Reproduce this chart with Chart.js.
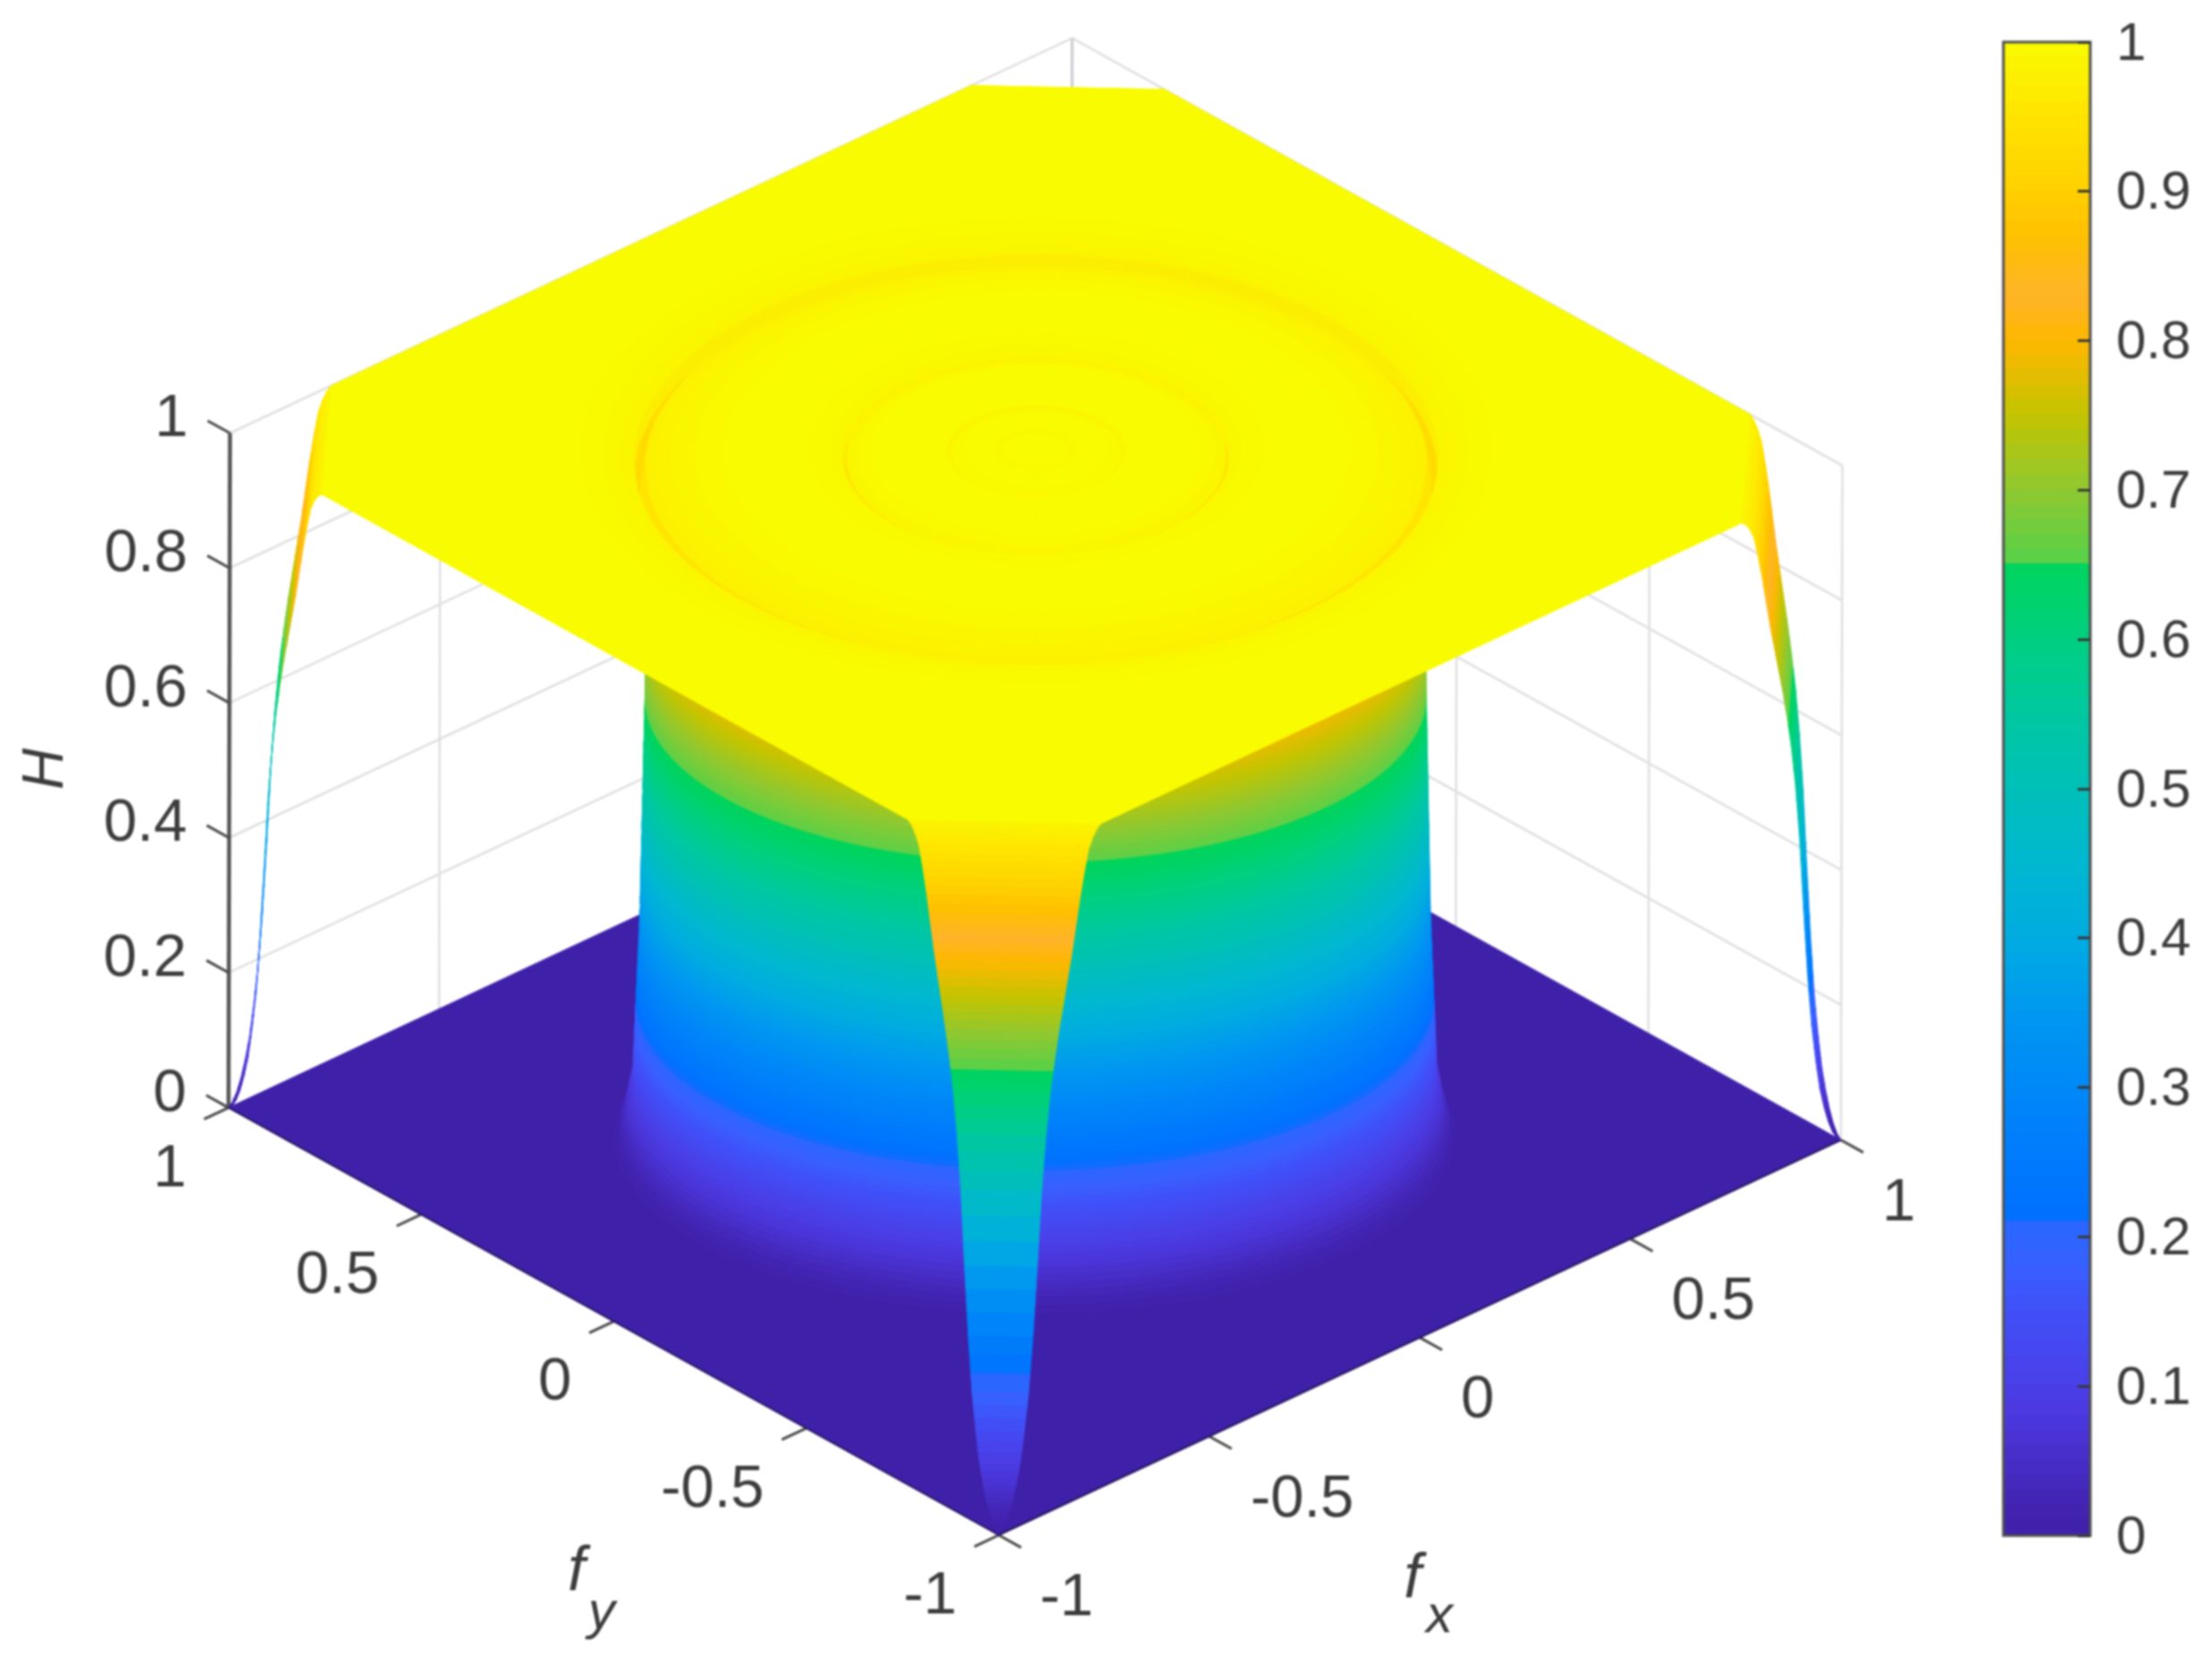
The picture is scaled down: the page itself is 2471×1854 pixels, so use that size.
<!DOCTYPE html>
<html><head><meta charset="utf-8">
<script src="https://cdn.jsdelivr.net/npm/chart.js@4"></script>
<style>
html,body{margin:0;padding:0;background:#fff;width:2471px;height:1854px;overflow:hidden}
canvas{position:absolute;filter:blur(0.9px)}
#main{left:0;top:0}
#bar{left:2200px;top:0}
</style></head><body>
<canvas id="main" width="2471" height="1854"></canvas>
<canvas id="bar" width="271" height="1854"></canvas>
<script>
// ---- axis ticks
const fxTicks=[-1,-0.5,0,0.5,1];
const fyTicks=[-1,-0.5,0,0.5,1];
const hTicks=[0,0.2,0.4,0.6,0.8,1];
// ---- colour map
const cmapH=[0,.03,.07,.1,.15,.18,.205,.212,.3,.35,.4,.45,.5,.55,.6,.65,.655,.7,.75,.78,.8,.83,.87,.9,.95,1];
const cmapC=['#3F20A8','#4426B8','#4A35D8','#4A3FE8','#4050F8','#3860FF','#2A66FF','#0070FF','#0088F8','#0098F0','#00ACE0','#00B8D0','#00C0B8','#00C8A0','#00D080','#00D45C','#5CD046','#90C830','#C4C400','#E8BC00','#FFB800','#FFB428','#FFC000','#FFD000','#FFE400','#F9FB00'];
// ---- height levels of the circular wall and the colour bar
const levels=[0,.01,.02,.03,.04,.05,.06,.07,.08,.09,.1,.11,.12,.13,.14,.15,.16,.17,.18,.19,.2,.21,.22,.23,.24,.25,.26,.27,.28,.29,.3,.31,.32,.33,.34,.35,.36,.37,.38,.39,.4,.41,.42,.43,.44,.45,.46,.47,.48,.49,.5,.51,.52,.53,.54,.55,.56,.57,.58,.59,.6,.61,.62,.63,.64,.65,.66,.67,.68,.69,.7,.71,.72,.73,.74,.75,.76,.77,.78,.79,.8,.81,.82,.83,.84,.85,.86,.87,.88,.89,.9,.91,.92,.93,.94,.95,.96,.97,.98,.99,1];
const barTicks=[0,.1,.2,.3,.4,.5,.6,.7,.8,.9,1];
// ---- wall radius against height
const wallH=[0,.02,.05,.1,.33,.65,1];
const wallR=[.745,.73,.718,.705,.693,.685,.678];
// ---- fall-off of H towards each corner of the (fx,fy) square, t = distance along the edge
const cornerT=[0,.01,.02,.03,.04,.05,.06,.07,.08,.09,.10,.11,.12,.13,.14,.15,.16,.17,.18,.19,.20,.21,.22,.23,.24];
const cornerH=[0,.006,.018,.036,.06,.09,.135,.19,.27,.37,.48,.56,.62,.665,.705,.74,.775,.81,.85,.89,.925,.955,.97,.98,.985];
// ---- radial profile of the top surface (rings)
const ringR=[0,.03,.055,.06,.065,.068,.075,.10,.125,.14,.15,.153,.156,.16,.17,.20,.25,.29,.315,.332,.335,.3375,.339,.34,.345,.36,.40,.45,.50,.55,.60,.64,.67,.685,.695,.6975,.70,.7025,.704,.705,.71,.73,.76,.80,.85,.92,.98];
const ringH=[1,1,.999,.996,.99,.997,1,1,.999,.997,.994,.975,.9966,.998,1,1,1,.998,.992,.986,.93,.95,.975,.989,.992,.997,1,1,1,.998,.993,.987,.98,.976,.93,.88,.84,.90,.96,.984,.987,.991,.995,.999,1,1,1];

// ---- view of the 3D box
const O={x:1155.9,y:1255.2}, EX={x:470.4,y:-220.6}, EY={x:-430.2,y:-238.7}, EZ={x:1.6,y:-753.3};
const P=(fx,fy,h)=>({x:O.x+fx*EX.x+fy*EY.x+h*EZ.x,y:O.y+fx*EX.y+fy*EY.y+h*EZ.y});

function hex(c){return [1,3,5].map(i=>parseInt(c.substr(i,2),16));}
function color(h){
  h=Math.max(0,Math.min(1,h));
  for(let i=1;i<cmapH.length;i++){ if(h<=cmapH[i]){
    const f=(h-cmapH[i-1])/(cmapH[i]-cmapH[i-1]),a=hex(cmapC[i-1]),b=hex(cmapC[i]);
    return `rgb(${a.map((v,k)=>Math.round(v+(b[k]-v)*f)).join(',')})`; } }
  return cmapC[cmapC.length-1];
}
function lookup(xs,ys,x){
  for(let i=1;i<xs.length;i++) if(x<=xs[i]) return ys[i-1]+(ys[i]-ys[i-1])*(x-xs[i-1])/(xs[i]-xs[i-1]);
  return ys[ys.length-1];
}
const sets=[];
function poly(pts,c,bw){ sets.push({type:'scatter',data:[...pts,pts[0]],showLine:true,polyFill:c,borderColor:c,borderWidth:bw===undefined?1:bw,pointRadius:0,fill:false,clip:false,tension:0}); }
function line(a,b,c,w){ sets.push({type:'scatter',data:[a,b],showLine:true,borderColor:c,borderWidth:w,pointRadius:0,fill:false,clip:false,borderCapStyle:'butt'}); }

// back walls
const G='#e0e0e2';
hTicks.slice(1).forEach(h=>{ line(P(-1,1,h),P(1,1,h),G,2.6); line(P(1,1,h),P(1,-1,h),G,2.6); });
fxTicks.slice(1).forEach(f=>{ line(P(f,1,0),P(f,1,1),f==1?'#cfcfd3':G,f==1?3.4:2.6); });
fyTicks.slice(0,4).forEach(f=>{ line(P(1,f,0),P(1,f,1),G,2.6); });
// floor
poly([P(-1,1,0),P(-1,-1,0),P(1,-1,0),P(1,1,0)],color(0));
// H axis and ticks
line(P(-1,1,0),P(-1,1,1),'#555555',4.5);
hTicks.forEach(h=>line(P(-1,1,h),P(-1,1.058,h),'#4a4a4a',3));
fxTicks.forEach(f=>line(P(f,-1,0),P(f,-1.058,0),'#4a4a4a',3));
fyTicks.forEach(f=>line(P(-1,f,0),P(-1.058,f,0),'#4a4a4a',3));
line(P(-1,1,0),P(-1,-1,0),'#26155f',2);
line(P(-1,-1,0),P(1,-1,0),'#26155f',2);

// corner fall-off
function corner(sx,sy){
  const farA=sy>0?1.015:1, farB=sx>0?1.015:1;
  for(let i=cornerT.length-2;i>=0;i--){
    for(let k=3;k>=1;k--){
      const t1=cornerT[i]+(cornerT[i+1]-cornerT[i])*(k-1)/3, t2=cornerT[i]+(cornerT[i+1]-cornerT[i])*k/3;
      const h1=lookup(cornerT,cornerH,t1), h2=lookup(cornerT,cornerH,t2);
      poly([P(sx-sx*t1,sy,h1*farA),P(sx,sy-sy*t1,h1*farB),P(sx,sy-sy*t2,h2*farB),P(sx-sx*t2,sy,h2*farA)],color((h1+h2)/2),1);
    }
  }
}
corner(1,1);
// circular wall, low to high; its rim sags a little towards the viewer
const wallSectors=[...Array(140).keys()];
for(let i=0;i<levels.length;i++){
  const h=levels[i], r=lookup(wallH,wallR,h);
  poly(wallSectors.map(j=>{
    const a=j/140*2*Math.PI, fx=r*Math.cos(a), fy=r*Math.sin(a);
    const d=P(fx,fy,0).y-O.y;
    return P(fx,fy,h-.027+.17*d/753.3);
  }),color(h),1);
}
corner(-1,1); corner(1,-1); corner(-1,-1);
// top plane
const tc=cornerT[cornerT.length-1], he=cornerH[cornerH.length-1];
poly([P(-1+tc,1,1),P(1-tc,1,1),P(1,1-tc,1),P(1,-1+tc,1),P(1-tc,-1,he),P(-1+tc,-1,he),P(-1,-1+tc,he),P(-1,1-tc,he)],color(1));
// ring mesh, far cells first
const S=84, cells=[];
for(let j=0;j<S;j++){
  const a1=j/S*2*Math.PI,a2=(j+1)/S*2*Math.PI;
  for(let i=0;i<ringR.length-1;i++){
    const r1=ringR[i],r2=ringR[i+1],h1=ringH[i],h2=ringH[i+1];
    const q=[[r1,a1,h1],[r2,a1,h2],[r2,a2,h2],[r1,a2,h1]];
    const rm=(r1+r2)/2,am=(a1+a2)/2;
    cells.push({q,c:(h1+h2)/2,d:P(rm*Math.cos(am),rm*Math.sin(am),0).y});
  }
}
cells.sort((a,b)=>a.d-b.d).forEach(cell=>{
  poly(cell.q.map(v=>P(v[0]*Math.cos(v[1]),v[0]*Math.sin(v[1]),v[2])),color(cell.c),0.8);
});
// near part of the plane, in front of the ring mesh
{
  const rOut=ringR[ringR.length-1]-.08, a0=Math.atan2(.675,-.738), pts=[];
  for(let k=0;k<=48;k++){const a=a0+k/48*Math.PI;pts.push(P(rOut*Math.cos(a),rOut*Math.sin(a),1));}
  pts.push(P(1,-1+tc,1),P(1-tc,-1,he),P(-1+tc,-1,he),P(-1,-1+tc,he),P(-1,1-tc,he));
  poly(pts,color(1),0);
}
// paint order: earlier sets are underneath
sets.forEach((s,i)=>{s.order=sets.length-i;});

const FONT='"Liberation Sans",Arial,sans-serif', TXT='#3c3c3c';
function put(ctx,s,x,y,al,size,it){ctx.font=(it?'italic ':'')+size+'px '+FONT;ctx.textAlign=al;ctx.textBaseline='middle';ctx.fillStyle=TXT;ctx.fillText(s,x,y);}
const polyPlugin={id:'polyFill',
  beforeDatasetDraw(chart,args){
    const ds=chart.data.datasets[args.index];
    if(!ds.polyFill)return;
    const ctx=chart.ctx,pts=args.meta.data;
    ctx.save();ctx.beginPath();
    pts.forEach((p,i)=>i?ctx.lineTo(p.x,p.y):ctx.moveTo(p.x,p.y));
    ctx.closePath();ctx.fillStyle=ds.polyFill;ctx.fill();ctx.restore();
  },
  afterDraw(chart){
    const ctx=chart.ctx,X=chart.scales.x,Y=chart.scales.y,px=p=>({x:X.getPixelForValue(p.x),y:Y.getPixelForValue(p.y)});
    ctx.save();
    hTicks.forEach(h=>{const p=px(P(-1,1,h));put(ctx,String(h),p.x-47,p.y-15,'right',67);});
    fyTicks.forEach(f=>{const p=px(P(-1,f,0));put(ctx,String(f),p.x-47,p.y+69,'right',67);});
    fxTicks.forEach(f=>{const p=px(P(f,-1,0));put(ctx,String(f),p.x+46,p.y+71,'left',67);});
    ctx.translate(52,859);ctx.rotate(-Math.PI/2);put(ctx,'H',0,0,'center',64,true);ctx.rotate(Math.PI/2);ctx.translate(-52,-859);
    put(ctx,'f',644,1757,'center',70,true);put(ctx,'y',672,1802,'center',60,true);
    put(ctx,'f',1578,1765,'center',70,true);put(ctx,'x',1608,1806,'center',60,true);
    ctx.restore();
  }
};
new Chart(document.getElementById('main'),{
  type:'scatter',
  data:{datasets:sets},
  options:{responsive:false,animation:false,events:[],
    layout:{padding:0},
    plugins:{legend:{display:false},tooltip:{enabled:false},title:{display:false}},
    scales:{x:{type:'linear',display:false,min:0,max:2471},y:{type:'linear',display:false,min:0,max:1854,reverse:true}}
  },
  plugins:[polyPlugin]
});

// ---- colour bar
const barSets=[];
for(let i=0;i<levels.length-1;i++){
  const c=color((levels[i]+levels[i+1])/2);
  barSets.push({data:[[levels[i],levels[i+1]]],backgroundColor:c,borderWidth:0,inflateAmount:1.5,barPercentage:1,categoryPercentage:1,grouped:false});
}
const barFrame={id:'barFrame',afterDatasetsDraw(chart){
  const a=chart.chartArea,ctx=chart.ctx,Y=chart.scales.y;ctx.save();ctx.strokeStyle='#4f4f4f';ctx.lineWidth=3;
  ctx.strokeRect(a.left,a.top,a.right-a.left,a.bottom-a.top);
  barTicks.forEach(v=>put(ctx,String(v),a.right+29,Y.getPixelForValue(v)+3,'left',60));
  ctx.restore();}};
new Chart(document.getElementById('bar'),{
  type:'bar',
  data:{labels:['H'],datasets:barSets},
  options:{responsive:false,animation:false,events:[],
    layout:{padding:{left:38,top:47,bottom:139,right:0}},
    plugins:{legend:{display:false},tooltip:{enabled:false}},
    scales:{
      x:{display:false,stacked:false},
      y:{type:'linear',min:0,max:1,position:'right',
        afterBuildTicks(s){s.ticks=barTicks.map(value=>({value}));},
        afterFit(s){s.width=136;s.paddingTop=0;s.paddingBottom=0;},
        border:{display:false},
        grid:{drawOnChartArea:false,drawTicks:true,tickLength:-14,tickColor:'#3a3a3a',tickWidth:3,z:2},
        ticks:{display:false}
      }
    }
  },
  plugins:[barFrame]
});
</script>
</body></html>
